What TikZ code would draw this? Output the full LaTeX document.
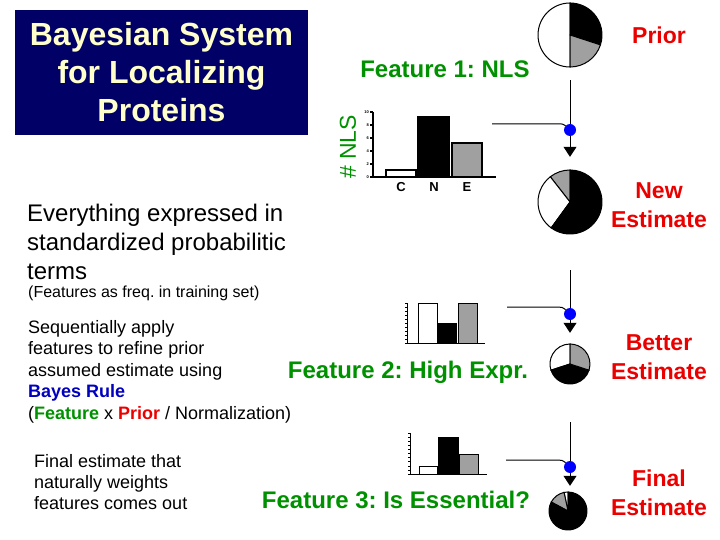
\documentclass[tikz,border=0pt]{standalone}
\usepackage{fontspec}
\setmainfont{Liberation Sans}
\usetikzlibrary{arrows.meta,positioning}
\definecolor{titleblue}{RGB}{0,0,102}
\definecolor{titletext}{RGB}{255,255,204}
\definecolor{featgreen}{RGB}{0,145,0}
\definecolor{estred}{RGB}{235,0,0}
\definecolor{ruleblue}{RGB}{0,0,190}
\definecolor{dotblue}{RGB}{0,0,255}
\definecolor{piegray}{RGB}{160,160,160}
\frenchspacing
\tikzset{
  titlebox/.style={fill=titleblue,text=titletext,align=center,inner sep=0pt,
    minimum width=293pt,minimum height=125pt,font=\fontsize{32}{38}\selectfont\bfseries},
  feat/.style={text=featgreen,inner sep=0pt,anchor=base,font=\fontsize{24}{28}\selectfont\bfseries},
  est/.style={text=estred,align=center,inner sep=0pt,anchor=north,font=\fontsize{23}{29}\selectfont\bfseries},
  body/.style={anchor=north west,align=left,inner sep=0pt},
  axis/.style={line width=1.2pt},
  bar/.style={draw=black,line width=1.2pt},
  wedge/.style={draw=black,line width=1pt},
  pie/.style={circle,inner sep=0pt},
  dot/.style={circle,fill=dotblue,inner sep=0pt,minimum size=12pt},
  link/.style={line width=1pt},
  flow/.style={line width=1pt,-{Triangle[width=13pt,length=10pt]}},
  ticklab/.style={inner sep=0pt,anchor=east,font=\fontsize{4}{4}\selectfont\bfseries},
  barlab/.style={inner sep=0pt,anchor=base,font=\fontsize{13}{13}\selectfont\bfseries},
}
\begin{document}
\begin{tikzpicture}[x=1pt,y=1pt]
\useasboundingbox (0,0) rectangle (720,-540);

% title
\node[titlebox] (title) at (161.5,-72.5) {Bayesian System\\for Localizing\\Proteins};

% left column
\node[body,font=\fontsize{24}{29}\selectfont] (terms) at (27,-204)
  {Everything expressed in\\standardized probabilitic\\terms};
\node[inner sep=0pt,anchor=base west,font=\fontsize{16}{19}\selectfont] (freq) at (28,-297)
  {(Features as freq. in training set)};
\node[body,font=\fontsize{18}{21.5}\selectfont] (apply) at (28,-320)
  {Sequentially apply\\features to refine prior\\assumed estimate using\\
   {\color{ruleblue}\bfseries Bayes Rule}\\
   ({\color{featgreen}\bfseries Feature} x {\color{estred}\bfseries Prior} / Normalization)};
\node[body,font=\fontsize{18}{21}\selectfont] (comes) at (34,-454)
  {Final estimate that\\naturally weights\\features comes out};

% feature labels
\node[feat] (feat1) at (445,-78) {Feature 1: NLS};
\node[feat] (feat2) at (408,-378) {Feature 2: High Expr.};
\node[feat] (feat3) at (396,-508) {Feature 3: Is Essential?};
\node[text=featgreen,inner sep=0pt,rotate=90,font=\fontsize{23}{28}\selectfont] (nls) at (348,-147) {\# NLS};

% estimate labels
\node[est] (lprior) at (659,-26.5) {Prior};
\node[est] (lnew) at (659,-182.5) {New\\Estimate};
\node[est] (lbetter) at (659,-334.5) {Better\\Estimate};
\node[est] (lfinal) at (659,-469.5) {Final\\Estimate};

% chart 1
\draw[axis] (373,-112) -- (373,-177) -- (496,-177);
\foreach \v in {0,2,...,10} {
  \draw[axis] (370,{-177+6.5*\v}) -- (373,{-177+6.5*\v});
  \node[ticklab] (tk\v) at (369,{-177+6.5*\v}) {\v};
}
\filldraw[bar,fill=white] (386,-177) rectangle (416,-170);
\filldraw[bar,fill=black] (418,-177) rectangle (449,-117);
\filldraw[bar,fill=piegray] (452,-177) rectangle (482,-143);
\node[barlab] (cc) at (401,-192) {C};
\node[barlab] (nn) at (434,-192) {N};
\node[barlab] (ee) at (467,-192) {E};

% chart 2
\draw[axis,line width=1pt] (407,-303) -- (407,-343) -- (485,-343);
\foreach \v in {0,...,10}
  \draw[line width=0.6pt] (405,{-343+4*\v}) -- (407,{-343+4*\v});
\filldraw[bar,line width=1pt,fill=white] (418,-343) rectangle (437,-303);
\filldraw[bar,line width=1pt,fill=black] (437,-343) rectangle (456,-323);
\filldraw[bar,line width=1pt,fill=piegray] (458,-343) rectangle (477,-303);

% chart 3
\draw[axis,line width=1pt] (410,-433) -- (410,-474) -- (487,-474);
\foreach \v in {0,...,10}
  \draw[line width=0.6pt] (408,{-474+4.1*\v}) -- (410,{-474+4.1*\v});
\filldraw[bar,line width=1pt,fill=white] (419,-474) rectangle (437,-466);
\filldraw[bar,line width=1pt,fill=black] (438,-474) rectangle (458,-437);
\filldraw[bar,line width=1pt,fill=piegray] (459,-474) rectangle (478,-454);

% pies
\node[pie,minimum size=64pt] (prior) at (570,-35) {};
\foreach \a/\b/\c in {90/270/white,-18/90/black,-90/-18/piegray}
  \filldraw[wedge,fill=\c] (prior.center) -- ++(\a:32pt) arc[start angle=\a,end angle=\b,radius=32pt] -- cycle;
\node[pie,minimum size=64pt] (newest) at (570,-202) {};
\foreach \a/\b/\c in {90/128/piegray,128/234/white,234/450/black}
  \filldraw[wedge,fill=\c] (newest.center) -- ++(\a:32pt) arc[start angle=\a,end angle=\b,radius=32pt] -- cycle;
\node[pie,minimum size=40pt] (betterest) at (570,-364) {};
\foreach \a/\b/\c in {90/198/white,198/342/black,-18/90/piegray}
  \filldraw[wedge,fill=\c] (betterest.center) -- ++(\a:20pt) arc[start angle=\a,end angle=\b,radius=20pt] -- cycle;
\node[pie,minimum size=38pt] (finalest) at (568,-511) {};
\foreach \a/\b/\c in {90/102/white,102/152/piegray,152/450/black}
  \filldraw[wedge,fill=\c] (finalest.center) -- ++(\a:19pt) arc[start angle=\a,end angle=\b,radius=19pt] -- cycle;

% merge points
\node[dot] (d1) at (570,-130) {};
\node[dot] (d2) at (570,-314) {};
\node[dot] (d3) at (570,-467) {};
\coordinate (f1) at (492,-124);
\coordinate (f2) at (507,-307);
\coordinate (f3) at (506,-460);

% connectors
\draw[link,shorten <=13pt] (prior.south) -- (d1);
\draw[flow,shorten >=13pt] (d1) -- (newest.north);
\draw[link] (f1) -- ++(66,0) to[out=0,in=135] (d1);
\draw[link,shorten <=36pt] (newest.south) -- (d2);
\draw[flow,shorten >=11pt] (d2) -- (betterest.north);
\draw[link] (f2) -- ++(51,0) to[out=0,in=135] (d2);
\draw[link,shorten <=38pt] (betterest.south) -- (d3);
\draw[flow,shorten >=6pt] (d3) -- (d3 |- finalest.north);
\draw[link] (f3) -- ++(52,0) to[out=0,in=135] (d3);
\end{tikzpicture}
\end{document}
